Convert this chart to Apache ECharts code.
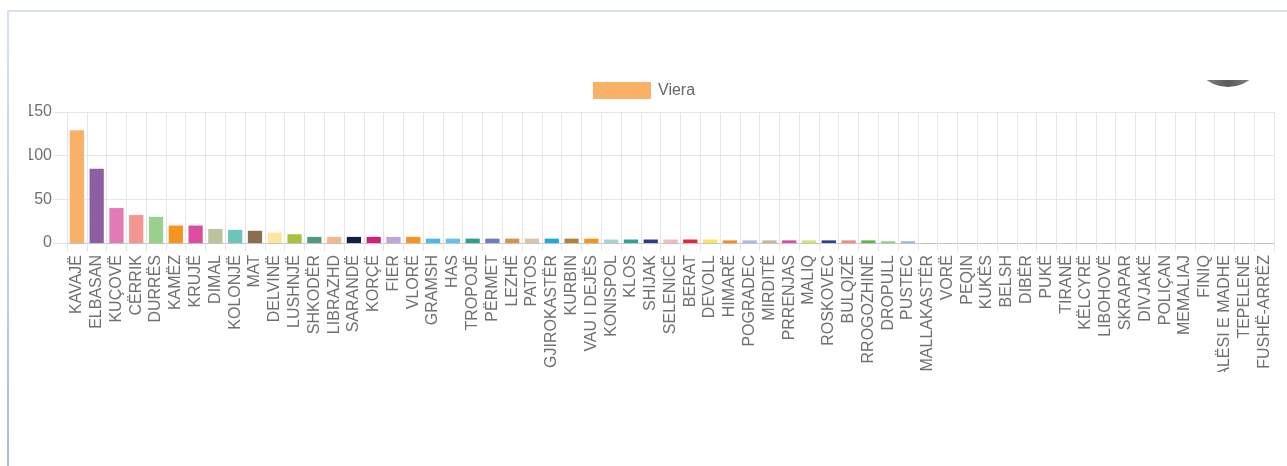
<!DOCTYPE html>
<html>
<head>
<meta charset="utf-8">
<title>Viera</title>
<script src="https://cdn.jsdelivr.net/npm/echarts@6/dist/echarts.min.js"></script>
<style>
  html, body { margin: 0; padding: 0; background: #ffffff; width: 1287px; height: 466px; overflow: hidden; }
  .card-top { position: absolute; left: 7px; top: 10px; width: 1280px; height: 2px; background: #d9e2f3; }
  .card-left { position: absolute; left: 7px; top: 10px; width: 2px; height: 456px;
               background: linear-gradient(to bottom, #d9e2f3 0%, #c3d0ee 50%, #a8bbe3 100%); }
  #chart { position: absolute; left: 29px; top: 0; width: 1258px; height: 372px; }
</style>
</head>
<body>
<div class="card-top"></div>
<div class="card-left"></div>
<div id="chart"></div>
<script>
// Municipalities and their counts
const categories = [
  'KAVAJË', 'ELBASAN', 'KUÇOVË', 'CËRRIK', 'DURRËS', 'KAMËZ', 'KRUJË', 'DIMAL', 'KOLONJË', 'MAT',
  'DELVINË', 'LUSHNJË', 'SHKODËR', 'LIBRAZHD', 'SARANDË', 'KORÇË', 'FIER', 'VLORË', 'GRAMSH', 'HAS',
  'TROPOJË', 'PËRMET', 'LEZHË', 'PATOS', 'GJIROKASTËR', 'KURBIN', 'VAU I DEJËS', 'KONISPOL', 'KLOS', 'SHIJAK',
  'SELENICË', 'BERAT', 'DEVOLL', 'HIMARË', 'POGRADEC', 'MIRDITË', 'PRRENJAS', 'MALIQ', 'ROSKOVEC', 'BULQIZË',
  'RROGOZHINË', 'DROPULL', 'PUSTEC', 'MALLAKASTËR', 'VORË', 'PEQIN', 'KUKËS', 'BELSH', 'DIBËR', 'PUKË',
  'TIRANË', 'KËLCYRË', 'LIBOHOVË', 'SKRAPAR', 'DIVJAKË', 'POLIÇAN', 'MEMALIAJ', 'FINIQ', 'MALËSI E MADHE', 'TEPELENË',
  'FUSHË-ARRËZ'
];

const values = [
  129, 85, 40, 32, 30, 20, 20, 16, 15, 14,
  12, 10, 7, 7, 7, 7, 7, 7, 5, 5,
  5, 5, 5, 5, 5, 5, 5, 4, 4, 4,
  4, 4, 4, 3, 3, 3, 3, 3, 3, 3,
  3, 2, 2, 0, 0, 0, 0, 0, 0, 0,
  0, 0, 0, 0, 0, 0, 0, 0, 0, 0,
  0
];

const seriesName = 'Viera';
const yTicks = { min: 0, max: 150, interval: 50 };

// One colour per municipality bar
const palette = [
  '#fbb068', '#8e5ea2', '#e37ab8', '#f4958f', '#9ad08e', '#f7941d', '#dc4d9f', '#bcc29c', '#6cc5ba', '#8c6d50',
  '#fbe89c', '#a6c13c', '#4f9b7b', '#f7b68b', '#102045', '#d81c7d', '#c3a4d7', '#f7941d', '#4db9e8', '#5fc2ef',
  '#28a08b', '#6c7cc4', '#d9914b', '#dac3a9', '#1fa7e1', '#b5813f', '#f7941d', '#a0d7d0', '#2ba394', '#2b3a90',
  '#f3b7be', '#e8263b', '#f9e45b', '#f58b23', '#b4b4e6', '#c9b59e', '#d94ba6', '#d2e27b', '#2c3f91', '#f08a87',
  '#5db847', '#8fd27d', '#90b5e6', '#fbb068', '#8e5ea2', '#e37ab8', '#f4958f', '#9ad08e', '#f7941d', '#dc4d9f',
  '#bcc29c', '#6cc5ba', '#8c6d50', '#fbe89c', '#a6c13c', '#4f9b7b', '#f7b68b', '#102045', '#d81c7d', '#c3a4d7',
  '#f7941d'
];

const font = "'Liberation Sans', Arial, Helvetica, sans-serif";
const chart = echarts.init(document.getElementById('chart'), null, { renderer: 'canvas' });

chart.setOption({
  animation: false,
  backgroundColor: 'transparent',
  textStyle: { fontFamily: font },
  legend: {
    data: [seriesName],
    left: 559,
    top: 77,
    itemWidth: 58,
    itemHeight: 17,
    itemGap: 10,
    icon: 'rect',
    textStyle: { fontSize: 16, color: '#666666', fontFamily: font, padding: [0, 0, 0, 2] }
  },
  grid: {
    left: 38, right: 13, top: 112, bottom: 129,
    containLabel: false,
    outerBoundsMode: 'none'
  },
  xAxis: {
    type: 'category',
    data: categories,
    boundaryGap: true,
    axisLine: { show: true, lineStyle: { color: '#c4c4c4', width: 1 } },
    axisTick: { show: true, length: 8, interval: 0, lineStyle: { color: '#e4e4e4' } },
    splitLine: { show: true, interval: 0, lineStyle: { color: '#e6e6e6', width: 1 } },
    axisLabel: {
      interval: 0,
      rotate: 90,
      margin: 12,
      fontSize: 16,
      color: '#707070',
      fontFamily: font
    }
  },
  yAxis: {
    type: 'value',
    min: yTicks.min,
    max: yTicks.max,
    interval: yTicks.interval,
    axisLine: { show: false },
    axisTick: { show: true, length: 14, lineStyle: { color: '#e4e4e4' } },
    splitLine: { show: true, lineStyle: { color: '#e6e6e6', width: 1 } },
    axisLabel: { margin: 15, fontSize: 16, color: '#707070', fontFamily: font }
  },
  graphic: [
    {
      type: 'circle',
      z: 1,
      shape: { cx: 1199, cy: 50.5, r: 36.5 },
      style: {
        fill: new echarts.graphic.LinearGradient(0, 0, 1, 0, [
          { offset: 0, color: '#9a9a9a' },
          { offset: 0.5, color: '#5a5a5a' },
          { offset: 1, color: '#9a9a9a' }
        ])
      }
    },
    {
      type: 'rect',
      z: 2,
      shape: { x: 1150, y: 13, width: 100, height: 67 },
      style: { fill: '#ffffff' }
    }
  ],
  series: [{
    name: seriesName,
    type: 'bar',
    barWidth: '72%',
    itemStyle: { color: palette[0] },
    data: values.map((v, i) => ({ value: v, itemStyle: { color: palette[i] } }))
  }]
});
</script>
</body>
</html>
